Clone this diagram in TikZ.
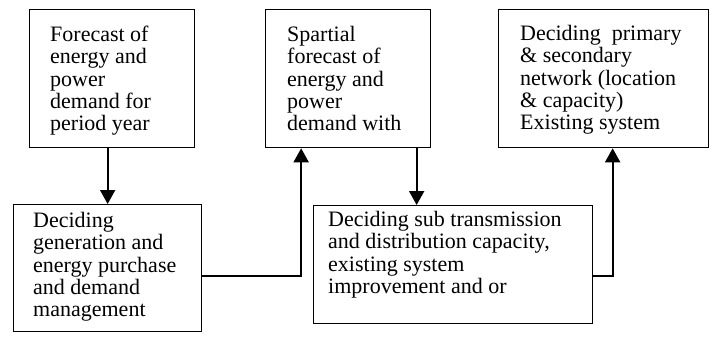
\documentclass[tikz,border=0pt]{standalone}
\usepackage{fontspec}
\setmainfont{Liberation Serif}
\usetikzlibrary{arrows,arrows.meta,calc,positioning}

\begin{document}
\begin{tikzpicture}[x=1pt,y=-1pt,
	box/.style={draw,line width=1.3pt,anchor=north west,inner sep=0pt},
	txt/.style={anchor=north west,align=left,inner sep=0pt,font=\fontsize{22}{22.3}\selectfont},
	flow/.style={line width=2pt,-{Triangle[width=15pt,length=14pt]}}]
								\useasboundingbox (0,0) rectangle (710,343);

								\node (forecast) [box,minimum width=165pt,minimum height=138pt] at (29,9) {};
								\node (generation) [box,minimum width=188pt,minimum height=127pt] at (13,204) {};
								\node (spatial) [box,minimum width=165pt,minimum height=138pt] at (265,9) {};
								\node (subtrans) [box,minimum width=279pt,minimum height=118pt] at (313,205) {};
								\node (network) [box,minimum width=210pt,minimum height=138pt] at (498,9) {};

								\node (forecastT) [txt] at (50,26) {Forecast of\\energy and\\power\\demand for\\period year};
								\node (generationT) [txt] at (33,212) {Deciding\\generation and\\energy purchase\\and demand\\management};
								\node (spatialT) [txt] at (287,26) {Spartial\\forecast of\\energy and\\power\\demand with};
								\node (subtransT) [txt] at (328,211) {Deciding sub transmission\\and distribution capacity,\\existing system\\improvement and or};
								\node (networkT) [txt] at (520,25) {Deciding\ \ primary\\\& secondary\\network (location\\\& capacity)\\Existing system};

								\draw[flow] ([xshift=-4.5pt]forecast.south) -- ([xshift=-4.5pt]forecast.south |- generation.north);
								\draw[flow] ([yshift=-7.5pt]generation.east) -| ([xshift=-47pt]spatial.south);
								\draw[flow] ([xshift=68.5pt]spatial.south) -- ([xshift=68.5pt]spatial.south |- subtrans.north);
								\draw[flow] ([yshift=-11pt]subtrans.east) -| ([xshift=9pt]network.south);
							\end{tikzpicture}
\end{document}
